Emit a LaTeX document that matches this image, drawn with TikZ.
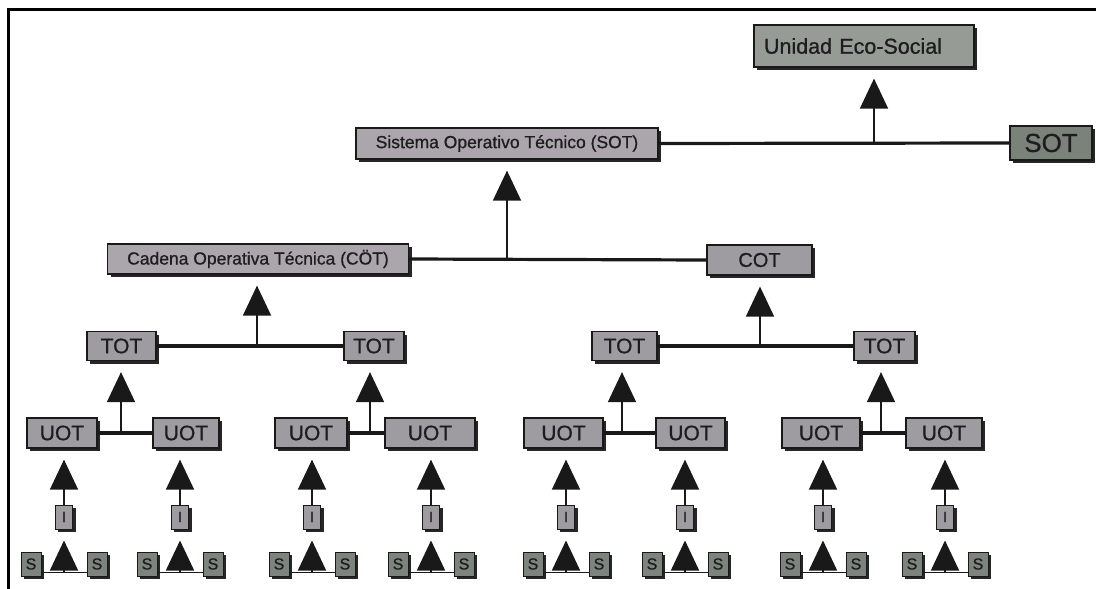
\documentclass[tikz,border=0pt]{standalone}
\usepackage{fontspec}
\setmainfont{Liberation Sans}[BoldFont=Liberation Sans, BoldFeatures={FakeBold=0.8}]
\usetikzlibrary{arrows.meta,shadows}
\definecolor{fillA}{RGB}{170,166,171}
\definecolor{fillB}{RGB}{150,155,150}
\definecolor{fillC}{RGB}{122,130,122}
\definecolor{fillD}{RGB}{158,156,160}
\definecolor{fillS}{RGB}{125,132,125}
\definecolor{txt}{RGB}{30,28,30}
\tikzset{
  box/.style={draw=black!90, line width=1.2pt, inner sep=0pt, text=txt,
    drop shadow={shadow xshift=3pt, shadow yshift=-3pt, fill=black!85, opacity=1}},
  bigbox/.style={box, fill=fillA, font=\fontsize{17.5pt}{17.5pt}\selectfont\bfseries, minimum height=31pt},
  ecobox/.style={box, fill=fillB, font=\fontsize{21.5pt}{21.5pt}\selectfont\bfseries, minimum height=42pt, minimum width=220pt},
  sotbox/.style={box, fill=fillC, font=\fontsize{26pt}{26pt}\selectfont\bfseries, minimum height=34pt, minimum width=82pt},
  midbox/.style={box, fill=fillD, font=\fontsize{21pt}{21pt}\selectfont\bfseries, minimum height=29pt},
  ibox/.style={box, fill=fillD, font=\fontsize{15pt}{15pt}\selectfont\bfseries, minimum height=24pt, minimum width=17pt, line width=1pt,
    drop shadow={shadow xshift=2.5pt, shadow yshift=-2.5pt, fill=black!85, opacity=1}},
  sbox/.style={box, fill=fillS, font=\fontsize{16pt}{16pt}\selectfont\bfseries, minimum height=24pt, minimum width=20pt, line width=1pt,
    drop shadow={shadow xshift=2.5pt, shadow yshift=-2.5pt, fill=black!85, opacity=1}},
  hline/.style={line width=3.2pt, black!90},
  sline/.style={line width=1.8pt, black!90},
  uparrow/.style={line width=1.6pt, black!90, -{Triangle[length=30pt,width=28pt]}, shorten >=11pt},
}
\begin{document}
\begin{tikzpicture}[x=1pt,y=-1pt]
\useasboundingbox (0,0) rectangle (1096,589);
\draw[line width=3pt] (8,589) -- (8,9) -- (1096,9);

% top levels
\node[ecobox, text width=200pt, align=left] (eco) at (864,46) {Unidad Eco-Social};
\node[bigbox, minimum width=302pt] (sist) at (507,143.5) {Sistema Operativo Técnico (SOT)};
\node[sotbox] (sot) at (1051,143) {SOT};
\node[bigbox, minimum width=301pt, minimum height=30pt] (cad) at (258,259) {Cadena Operativa Técnica (CÖT)};
\node[midbox, minimum width=105pt, minimum height=30pt, font=\fontsize{20pt}{20pt}\selectfont\bfseries] (cot) at (759.5,260) {COT};

\draw[hline] (sist.east) -- (sot.west);
\coordinate (j0) at (874,143.5);
\draw[uparrow] (j0) -- (j0 |- eco.south);

\draw[hline] (cad.east) -- (cot.west);
\coordinate (j1) at (507,259.5);
\draw[uparrow] (j1) -- (j1 |- sist.south);

% TOT level
\node[midbox, minimum width=69pt] (tot1) at (121.5,346) {TOT};
\node[midbox, minimum width=60pt] (tot2) at (374,346) {TOT};
\node[midbox, minimum width=65pt] (tot3) at (624.5,346) {TOT};
\node[midbox, minimum width=61pt] (tot4) at (884.5,346) {TOT};

\draw[hline] (tot1.east) -- (tot2.west);
\coordinate (j2) at (257,346);
\draw[uparrow] (j2) -- (j2 |- cad.south);
\draw[hline] (tot3.east) -- (tot4.west);
\coordinate (j3) at (760,346);
\draw[uparrow] (j3) -- (j3 |- cot.south);

% UOT level
\foreach \c/\w [count=\k] in {62/70, 186/66, 311/72, 430/90, 563.5/79, 690.5/69, 821/78, 944/76}
  \node[midbox, minimum width=\w pt, minimum height=30pt] (uot\k) at (\c,433) {UOT};

\draw[hline] (uot1.east) -- (uot2.west);
\draw[hline] (uot3.east) -- (uot4.west);
\draw[hline] (uot5.east) -- (uot6.west);
\draw[hline] (uot7.east) -- (uot8.west);
\coordinate (j4) at (121,433);
\coordinate (j5) at (370,433);
\coordinate (j6) at (622,433);
\coordinate (j7) at (881,433);
\draw[uparrow] (j4) -- (j4 |- tot1.south);
\draw[uparrow] (j5) -- (j5 |- tot2.south);
\draw[uparrow] (j6) -- (j6 |- tot3.south);
\draw[uparrow] (j7) -- (j7 |- tot4.south);

% I and S levels
\foreach \x [count=\k] in {64,180,312,431,566,685,823,945} {
  \node[ibox] (i\k) at (\x,517) {I};
  \node[sbox] (sl\k) at (\x-33,564) {S};
  \node[sbox] (sr\k) at (\x+33,564) {S};
  \coordinate (b\k) at (\x,572);
  \draw[uparrow] (i\k.north) -- (i\k.north |- uot\k.south);
  \draw[sline] ([yshift=4pt]sl\k.south east) -- ([yshift=4pt]sr\k.south west);
  \draw[uparrow] (b\k) -- (i\k.south);
}
\end{tikzpicture}
\end{document}
